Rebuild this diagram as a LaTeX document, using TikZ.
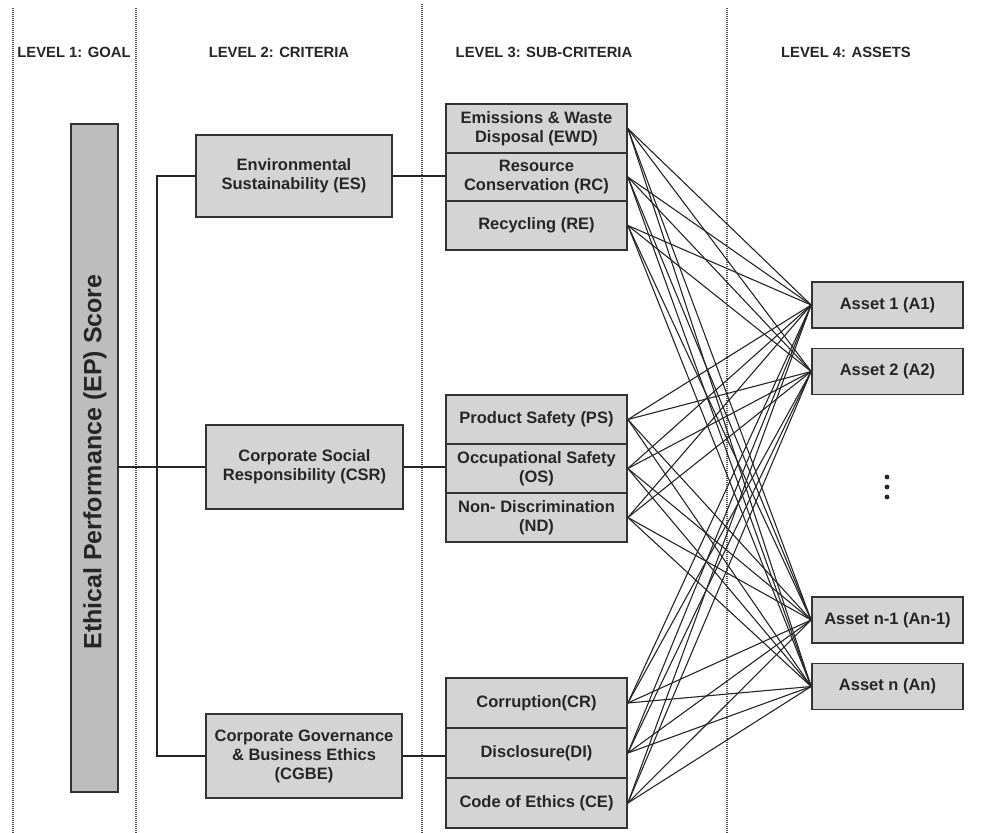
\documentclass[tikz,border=0pt]{standalone}
\usepackage{fontspec}
\setmainfont{Liberation Sans}
\definecolor{boxfill}{HTML}{D4D4D4}
\definecolor{goalfill}{HTML}{BDBDBD}
\definecolor{boxline}{HTML}{333333}
\definecolor{linec}{HTML}{262626}
\definecolor{txt}{HTML}{262626}
\definecolor{sepc}{HTML}{4A4A4A}
\begin{document}
\begin{tikzpicture}[x=1pt,y=-1pt,
  box/.style={draw=boxline, line width=1.7pt, fill=boxfill, inner sep=0pt, align=center,
    font=\fontsize{16.5}{19}\selectfont\bfseries, text=txt},
  link/.style={draw=linec, line width=1.1pt},
  sepline/.style={draw=sepc, dash pattern=on 1pt off 1pt, line width=1.1pt},
  hdr/.style={font=\fontsize{14.8}{17}\selectfont\bfseries, text=txt, inner sep=0pt}]
\useasboundingbox (0,0) rectangle (983,833);

% separators
\foreach \x/\t/\n in {13/8/1,136/8/2,422/4/3,727/8/4}{
  \coordinate (sep\n t) at (\x,\t);
  \coordinate (sep\n b) at (\x,833);
  \draw[sepline] (sep\n t) -- (sep\n b);
}

% headers
\node[hdr] (h1) at (74,52) {LEVEL 1: GOAL};
\node[hdr] (h2) at (279,52) {LEVEL 2: CRITERIA};
\node[hdr] (h3) at (544,52) {LEVEL 3: SUB-CRITERIA};
\node[hdr] (h4) at (846,52) {LEVEL 4: ASSETS};

% goal
\node[box, fill=goalfill, minimum width=47pt, minimum height=668pt] (goal) at (94.5,458) {};
\node[rotate=90, font=\fontsize{25}{28}\selectfont\bfseries, text=txt, inner sep=0pt] (goaltext) at (95,462) {Ethical Performance (EP) Score};

% criteria
\node[box, minimum width=196pt, minimum height=82pt] (es) at (294,176) {Environmental\\Sustainability (ES)};
\node[box, minimum width=197pt, minimum height=84pt] (csr) at (304.5,467) {Corporate Social\\Responsibility (CSR)};
\node[box, minimum width=196pt, minimum height=84pt] (cgbe) at (304,756) {Corporate Governance\\\& Business Ethics\\(CGBE)};

% sub-criteria
\tikzset{sub/.style={box, minimum width=181pt}}
\node[sub, minimum height=49pt] (ewd) at (536.5,128.5) {Emissions \& Waste\\Disposal (EWD)};
\node[sub, minimum height=48pt] (rc) at (536.5,177) {Resource\\Conservation (RC)};
\node[sub, minimum height=49pt] (re) at (536.5,225.5) {Recycling (RE)};

\node[sub, minimum height=49pt] (ps) at (536.5,419.5) {Product Safety (PS)};
\node[sub, minimum height=49pt] (os) at (536.5,468.5) {Occupational Safety\\(OS)};
\node[sub, minimum height=49pt] (nd) at (536.5,517.5) {Non- Discrimination\\(ND)};

\node[sub, minimum height=50pt] (cr) at (536.5,703) {Corruption(CR)};
\node[sub, minimum height=50pt] (di) at (536.5,753) {Disclosure(DI)};
\node[sub, minimum height=50pt] (ce) at (536.5,803) {Code of Ethics (CE)};

% assets
\tikzset{asset/.style={box, minimum width=151pt, minimum height=46pt}}
\node[asset] (a1) at (887.5,305) {Asset 1 (A1)};
\node[asset] (a2) at (887.5,371.5) {Asset 2 (A2)};
\node[asset] (an1) at (887.5,620) {Asset n-1 (An-1)};
\node[asset] (an) at (887.5,686.5) {Asset n (An)};

% dots
\foreach \y/\n in {477/1,487/2,497/3}{
  \node[circle, fill=txt, inner sep=0pt, minimum size=4.8pt] (dot\n) at (887,\y) {};
}

% tree connectors
\coordinate (trunk) at (157,467);
\draw[link] (goal.east |- csr.west) -- (csr.west);
\draw[link] (es.west) -- (es.west -| trunk) -- (cgbe.west -| trunk) -- (cgbe.west);
\draw[link] (es.east) -- (es.east -| rc.west);
\draw[link] (csr.east) -- (csr.east -| os.west);
\draw[link] (cgbe.east) -- (cgbe.east -| di.west);

% sub-criteria to assets
\foreach \s in {ewd,rc,re,ps,os,nd,cr,di,ce}{
  \foreach \a in {a1,a2,an1,an}{
    \draw[link] (\s.east) -- (\a.west);
  }
}
\end{tikzpicture}
\end{document}
